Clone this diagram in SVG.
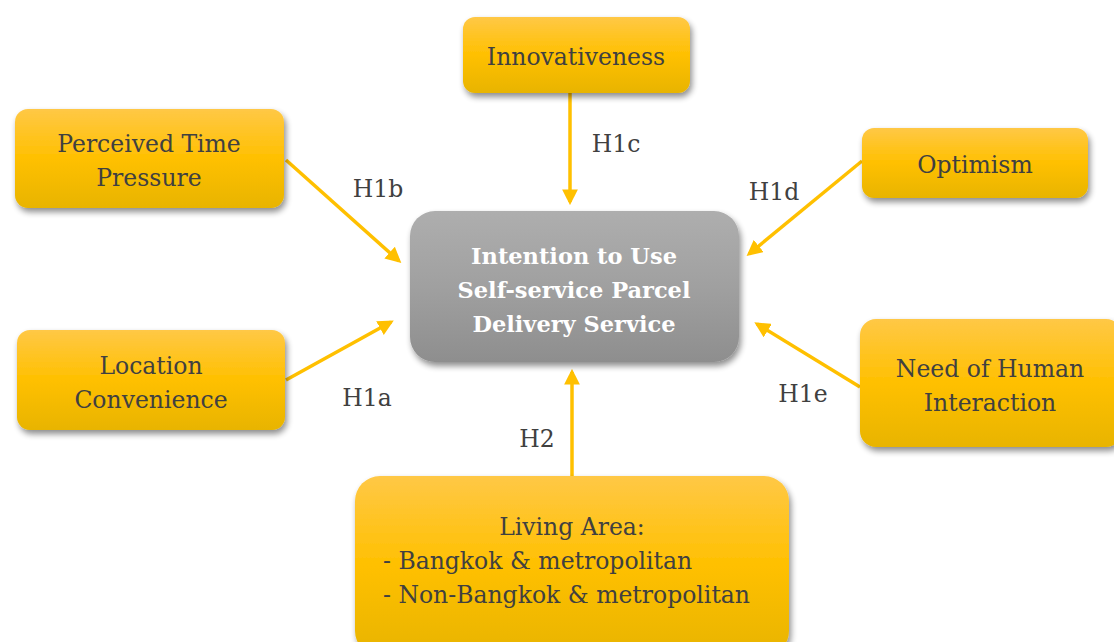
<svg xmlns="http://www.w3.org/2000/svg" width="1114" height="642" viewBox="0 0 1114 642">
<defs>
<linearGradient id="yg" x1="0" y1="0" x2="0" y2="1">
<stop offset="0" stop-color="#FFC846"/>
<stop offset="0.5" stop-color="#FFC000"/>
<stop offset="1" stop-color="#E8B400"/>
</linearGradient>
<linearGradient id="gg" x1="0" y1="0" x2="0" y2="1">
<stop offset="0" stop-color="#AEAEAE"/>
<stop offset="0.5" stop-color="#A0A0A0"/>
<stop offset="1" stop-color="#8E8E8E"/>
</linearGradient>
<filter id="sh" x="-10%" y="-10%" width="125%" height="130%">
<feGaussianBlur in="SourceAlpha" stdDeviation="3"/>
<feOffset dx="2" dy="4" result="b"/>
<feComponentTransfer><feFuncA type="linear" slope="0.45"/></feComponentTransfer>
<feMerge><feMergeNode/><feMergeNode in="SourceGraphic"/></feMerge>
</filter>
<marker id="ah" viewBox="0 0 10 10" refX="8" refY="5" markerWidth="4.5" markerHeight="4.5" orient="auto" markerUnits="strokeWidth">
<path d="M0,0 L10,5 L0,10 Z" fill="#FFC000"/>
</marker>
</defs>
<style>
.yb{fill:url(#yg);filter:url(#sh);}
.gb{fill:url(#gg);filter:url(#sh);}
.t{fill:#404040;text-anchor:middle;}
.c{font-weight:bold;fill:#FFFFFF;text-anchor:middle;font-size:22.5px;}
.s{fill:#404040;text-anchor:start;}
.lb{fill:#404040;text-anchor:middle;}
.ar{stroke:#FFC000;stroke-width:3.5;fill:none;marker-end:url(#ah);}
</style>
<rect width="1114" height="642" fill="#FFFFFF"/>
<g font-family="DejaVu Serif, serif" font-size="23.5">
<g id="connectors">
<line class="ar" x1="570" y1="93" x2="570" y2="202"/>
<line class="ar" x1="286" y1="160" x2="399" y2="261"/>
<line class="ar" x1="286" y1="380" x2="391" y2="322"/>
<line class="ar" x1="862" y1="161" x2="749" y2="254"/>
<line class="ar" x1="860" y1="387" x2="757" y2="324"/>
<line class="ar" x1="572" y1="476" x2="572" y2="372"/>
<text class="lb" x="616" y="152">H1c</text>
<text class="lb" x="378" y="197">H1b</text>
<text class="lb" x="774" y="200">H1d</text>
<text class="lb" x="367" y="406">H1a</text>
<text class="lb" x="803" y="402">H1e</text>
<text class="lb" x="537" y="447">H2</text>
</g>
<g id="center">
<rect class="gb" x="410" y="211" width="329" height="151" rx="25"/>
<text class="c" x="574" y="264">Intention to Use</text>
<text class="c" x="574" y="298">Self-service Parcel</text>
<text class="c" x="574" y="332">Delivery Service</text>
</g>
<g id="innovativeness">
<rect class="yb" x="463" y="17" width="227" height="76" rx="12"/>
<text class="t" x="576" y="65">Innovativeness</text>
</g>
<g id="perceived">
<rect class="yb" x="15" y="109" width="269" height="99" rx="13"/>
<text class="t" x="149" y="152">Perceived Time</text>
<text class="t" x="149" y="186">Pressure</text>
</g>
<g id="optimism">
<rect class="yb" x="862" y="128" width="226" height="70" rx="12"/>
<text class="t" x="975" y="173">Optimism</text>
</g>
<g id="location">
<rect class="yb" x="17" y="330" width="268" height="100" rx="13"/>
<text class="t" x="151" y="374">Location</text>
<text class="t" x="151" y="408">Convenience</text>
</g>
<g id="human">
<rect class="yb" x="860" y="319" width="262" height="128" rx="16"/>
<text class="t" x="990" y="377">Need of Human</text>
<text class="t" x="990" y="411">Interaction</text>
</g>
<g id="living">
<rect class="yb" x="355" y="476" width="434" height="180" rx="25"/>
<text class="t" x="572" y="535">Living Area:</text>
<text class="s" x="383" y="569">- Bangkok &amp; metropolitan</text>
<text class="s" x="383" y="603">- Non-Bangkok &amp; metropolitan</text>
</g>
</g>
</svg>
